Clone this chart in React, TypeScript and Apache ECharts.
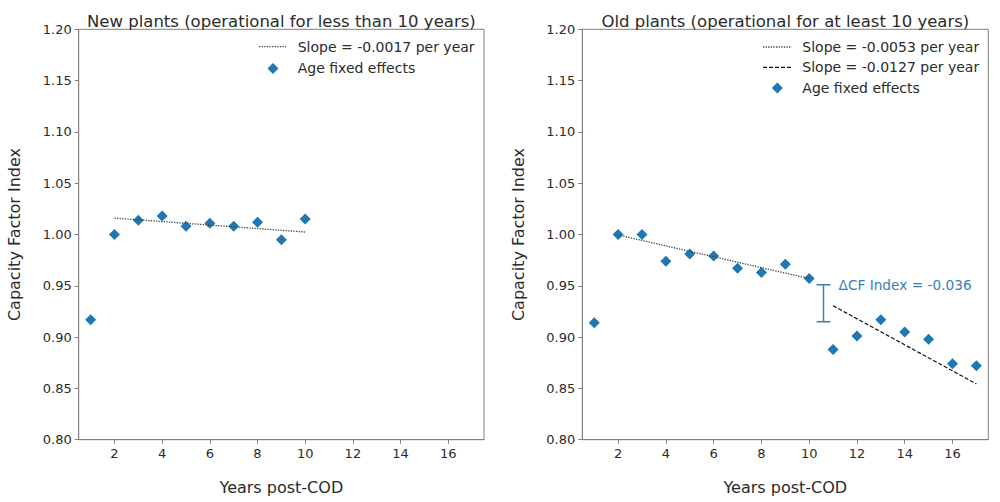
import React, { useEffect, useRef } from "react";
import * as echarts from "echarts";

const years = [1, 2, 3, 4, 5, 6, 7, 8, 9, 10, 11, 12, 13, 14, 15, 16, 17];
const newYears = [1, 2, 3, 4, 5, 6, 7, 8, 9, 10];
const newValues = [0.917, 1.0, 1.014, 1.018, 1.008, 1.011, 1.008, 1.012, 0.995, 1.015];
const oldValues = [0.914, 1.0, 1.0, 0.974, 0.981, 0.979, 0.967, 0.963, 0.971, 0.957, 0.888, 0.901, 0.917, 0.905, 0.898, 0.874, 0.872];
const newFit = [[2, 1.016], [10, 1.0024]];
const oldFitEarly = [[2, 0.9995], [10, 0.9571]];
const oldFitLate = [[11, 0.9306], [17, 0.8544]];
const gapBar = [[10.6, 0.915, 0.951]];
const xTicks = [2, 4, 6, 8, 10, 12, 14, 16];
const titles = ["New plants (operational for less than 10 years)", "Old plants (operational for at least 10 years)"];
const legendNew = ["Slope = -0.0017 per year", "Age fixed effects"];
const legendOld = ["Slope = -0.0053 per year", "Slope = -0.0127 per year", "Age fixed effects"];
const annotation = "ΔCF Index = -0.036";

const FONT = "DejaVu Sans";
const BLUE = "#1f77b4";
const ANNO = "#3a80b8";
const TXT = "#2b2b2b";
const FRAME = "#808080";

export default function App() {
  const ref = useRef<HTMLDivElement>(null);
  useEffect(() => {
    if (!ref.current) return;
    const chart = echarts.init(ref.current, undefined, { renderer: "svg" });
    const grids = [
      { left: 78.7, top: 29.3, width: 405.3, height: 410.4 },
      { left: 582.3, top: 29.3, width: 406, height: 410.4 },
    ];
    const xAxis = grids.map((_, i) => ({
      type: "value",
      gridIndex: i,
      min: 0.5,
      max: 17.5,
      name: "Years post-COD",
      nameLocation: "middle",
      nameGap: 40,
      nameTextStyle: { fontFamily: FONT, fontSize: 16, color: TXT },
      axisLine: { show: true, lineStyle: { color: FRAME, width: 1 } },
      axisTick: { show: true, inside: false, length: 4, lineStyle: { color: FRAME }, customValues: xTicks },
      axisLabel: { fontFamily: FONT, fontSize: 13, color: TXT, margin: 7, customValues: xTicks },
      splitLine: { show: false },
    }));
    const yAxis = grids.map((_, i) => ({
      type: "value",
      gridIndex: i,
      min: 0.8,
      max: 1.2,
      interval: 0.05,
      name: "Capacity Factor Index",
      nameLocation: "middle",
      nameGap: 56,
      nameTextStyle: { fontFamily: FONT, fontSize: 16, color: TXT },
      axisLine: { show: true, lineStyle: { color: FRAME, width: 1 } },
      axisTick: { show: true, inside: false, length: 4, lineStyle: { color: FRAME } },
      axisLabel: { fontFamily: FONT, fontSize: 13, color: TXT, margin: 7, formatter: (v: number) => v.toFixed(2) },
      splitLine: { show: false },
    }));
    const scatterStyle = { color: BLUE, opacity: 1 };
    const option: any = {
      animation: false,
      title: titles.map((t, i) => ({
        text: t,
        left: grids[i].left + grids[i].width / 2 - 5,
        textAlign: "center",
        top: 8,
        textStyle: { fontFamily: FONT, fontSize: 16.5, fontWeight: "normal", color: TXT },
      })),
      grid: grids.map((g) => ({ ...g, show: true, borderColor: FRAME, borderWidth: 1, backgroundColor: "transparent" })),
      xAxis,
      yAxis,
      series: [
        {
          type: "line",
          xAxisIndex: 0,
          yAxisIndex: 0,
          data: newFit,
          symbol: "none",
          lineStyle: { color: "#444", width: 1.3, type: [1.3, 1.3] },
        },
        {
          type: "scatter",
          xAxisIndex: 0,
          yAxisIndex: 0,
          symbol: "diamond",
          symbolSize: [11, 11],
          itemStyle: scatterStyle,
          data: newYears.map((x, i) => [x, newValues[i]]),
        },
        {
          type: "line",
          xAxisIndex: 1,
          yAxisIndex: 1,
          data: oldFitEarly,
          symbol: "none",
          lineStyle: { color: "#444", width: 1.3, type: [1.3, 1.3] },
        },
        {
          type: "line",
          xAxisIndex: 1,
          yAxisIndex: 1,
          data: oldFitLate,
          symbol: "none",
          lineStyle: { color: "#111", width: 1.2, type: [4, 2] },
        },
        {
          type: "scatter",
          xAxisIndex: 1,
          yAxisIndex: 1,
          symbol: "diamond",
          symbolSize: [11, 11],
          itemStyle: scatterStyle,
          data: years.map((x, i) => [x, oldValues[i]]),
        },
        {
          type: "custom",
          xAxisIndex: 1,
          yAxisIndex: 1,
          data: gapBar,
          encode: { x: 0, y: [1, 2] },
          renderItem: (params: any, api: any) => {
            const x = api.value(0);
            const lo = api.value(1);
            const hi = api.value(2);
            const pHi = api.coord([x, hi]);
            const pLo = api.coord([x, lo]);
            const cap = 7;
            const ls = { stroke: ANNO, lineWidth: 1.5 };
            return {
              type: "group",
              children: [
                { type: "line", shape: { x1: pHi[0], y1: pHi[1], x2: pLo[0], y2: pLo[1] }, style: ls },
                { type: "line", shape: { x1: pHi[0] - cap, y1: pHi[1], x2: pHi[0] + cap, y2: pHi[1] }, style: ls },
                { type: "line", shape: { x1: pLo[0] - cap, y1: pLo[1], x2: pLo[0] + cap, y2: pLo[1] }, style: ls },
                {
                  type: "text",
                  x: pHi[0] + 15,
                  y: pHi[1],
                  style: { text: annotation, fill: ANNO, fontFamily: FONT, fontSize: 13.7, verticalAlign: "middle", align: "left" },
                },
              ],
            };
          },
        },
      ],
      graphic: [
        { type: "line", shape: { x1: 259, y1: 46.7, x2: 286, y2: 46.7 }, style: { stroke: "#444", lineWidth: 1.3, lineDash: [1.3, 1.3] } },
        { type: "text", x: 297.7, y: 46.7, style: { text: legendNew[0], fill: TXT, fontFamily: FONT, fontSize: 14, verticalAlign: "middle" } },
        { type: "polygon", shape: { points: [[273, 63], [278.5, 68.5], [273, 74], [267.5, 68.5]] }, style: { fill: BLUE } },
        { type: "text", x: 297.7, y: 68.3, style: { text: legendNew[1], fill: TXT, fontFamily: FONT, fontSize: 14, verticalAlign: "middle" } },
        { type: "line", shape: { x1: 763, y1: 47, x2: 791.7, y2: 47 }, style: { stroke: "#444", lineWidth: 1.3, lineDash: [1.3, 1.3] } },
        { type: "text", x: 802.3, y: 47, style: { text: legendOld[0], fill: TXT, fontFamily: FONT, fontSize: 14, verticalAlign: "middle" } },
        { type: "line", shape: { x1: 763, y1: 67.3, x2: 791.7, y2: 67.3 }, style: { stroke: "#111", lineWidth: 1.2, lineDash: [4, 2] } },
        { type: "text", x: 802.3, y: 67.3, style: { text: legendOld[1], fill: TXT, fontFamily: FONT, fontSize: 14, verticalAlign: "middle" } },
        { type: "polygon", shape: { points: [[777.3, 82.5], [782.8, 88], [777.3, 93.5], [771.8, 88]] }, style: { fill: BLUE } },
        { type: "text", x: 802.3, y: 88, style: { text: legendOld[2], fill: TXT, fontFamily: FONT, fontSize: 14, verticalAlign: "middle" } },
      ],
    };
    chart.setOption(option);
    return () => chart.dispose();
  }, []);
  return (
    <div
      ref={ref}
      style={{ position: "absolute", left: 0, top: 0, width: 1000, height: 502, background: "#fff" }}
    />
  );
}
